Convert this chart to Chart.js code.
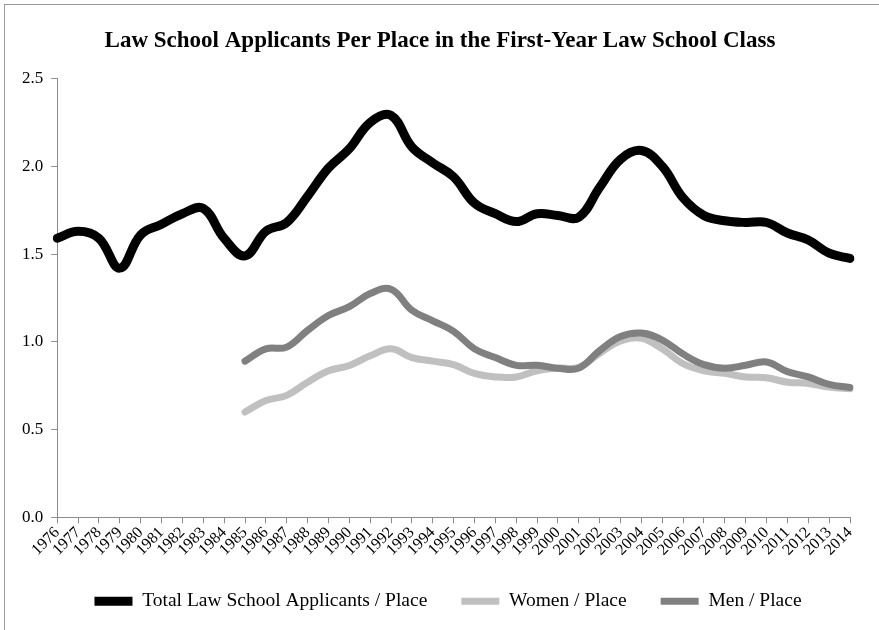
<!DOCTYPE html>
<html>
<head>
<meta charset="utf-8">
<script src="https://cdn.jsdelivr.net/npm/chart.js@4/dist/chart.umd.min.js"></script>
<style>
  html, body { margin: 0; padding: 0; background: #fff; }
  #wrap { position: relative; width: 879px; height: 630px; overflow: hidden; }
  #frame { position: absolute; left: 4px; top: 4px; width: 900px; height: 700px;
           border-left: 1px solid #9a9a9a; border-top: 1px solid #9a9a9a; }
  canvas { position: absolute; left: 0; top: 0; }
</style>
</head>
<body>
<div id="wrap">
  <div id="frame"></div>
  <canvas id="chart" width="879" height="630"></canvas>
</div>
<script>
// years on the x axis
const years = [];
for (let y = 1976; y <= 2014; y++) years.push(String(y));

// applicants per place
const totalPerPlace = [1.59, 1.63, 1.59, 1.42, 1.61, 1.67, 1.73, 1.76, 1.59, 1.49,
  1.63, 1.68, 1.83, 1.99, 2.10, 2.25, 2.29, 2.11, 2.02, 1.94,
  1.79, 1.73, 1.685, 1.73, 1.72, 1.71, 1.88, 2.04, 2.09, 2.00,
  1.82, 1.72, 1.69, 1.68, 1.68, 1.62, 1.58, 1.505, 1.475];

const womenPerPlace = [null, null, null, null, null, null, null, null, null, 0.60,
  0.665, 0.695, 0.77, 0.835, 0.865, 0.92, 0.96, 0.91, 0.89, 0.87,
  0.82, 0.80, 0.80, 0.835, 0.85, 0.855, 0.935, 1.005, 1.02, 0.96,
  0.875, 0.835, 0.82, 0.80, 0.795, 0.77, 0.763, 0.742, 0.733];

const menPerPlace = [null, null, null, null, null, null, null, null, null, 0.89,
  0.96, 0.97, 1.065, 1.15, 1.20, 1.275, 1.30, 1.18, 1.12, 1.06,
  0.96, 0.91, 0.866, 0.866, 0.85, 0.85, 0.95, 1.03, 1.05, 1.01,
  0.93, 0.87, 0.85, 0.866, 0.885, 0.83, 0.80, 0.757, 0.74];

const yTicks = [0, 0.5, 1.0, 1.5, 2.0, 2.5];

const serif = '"Liberation Serif", "DejaVu Serif", serif';

// title and legend sit a little right of the plot centre in the original
const nudgeBlocks = {
  id: 'nudgeBlocks',
  afterLayout(chart) {
    if (chart.titleBlock) { chart.titleBlock.left += 8; chart.titleBlock.right += 8; }
    if (chart.legend) { chart.legend.left += 16; chart.legend.right += 16; }
  }
};

new Chart(document.getElementById('chart'), {
  type: 'line',
  data: {
    labels: years,
    datasets: [
      { label: 'Total Law School Applicants / Place', data: totalPerPlace,
        borderColor: '#000000', backgroundColor: '#000000', borderWidth: 9, order: 2 },
      { label: 'Women / Place', data: womenPerPlace,
        borderColor: '#c0c0c0', backgroundColor: '#c0c0c0', borderWidth: 7, order: 1 },
      { label: 'Men / Place', data: menPerPlace,
        borderColor: '#808080', backgroundColor: '#808080', borderWidth: 7, order: 0 }
    ]
  },
  options: {
    responsive: false,
    animation: false,
    layout: { padding: { left: 14, right: 29, top: 22, bottom: 9 } },
    elements: {
      point: { radius: 0, hoverRadius: 0 },
      line: { tension: 0.4, borderCapStyle: 'round', borderJoinStyle: 'round' }
    },
    plugins: {
      title: {
        display: true,
        text: 'Law School Applicants Per Place in the First-Year Law School Class',
        color: '#000',
        font: { family: serif, size: 23, weight: 'bold' },
        padding: { top: 5, bottom: 24 }
      },
      legend: {
        position: 'bottom',
        labels: {
          usePointStyle: true,
          pointStyle: 'line',
          pointStyleWidth: 38,
          color: '#000',
          font: { family: serif, size: 19.5 },
          padding: 34,
          sort: (a, b) => a.datasetIndex - b.datasetIndex
        }
      },
      tooltip: { enabled: false }
    },
    scales: {
      x: {
        offset: false,
        border: { color: '#8c8c8c', width: 1 },
        grid: { drawOnChartArea: false, color: '#8c8c8c', tickLength: 6 },
        afterFit: axis => { axis.height -= 2; },
        ticks: { color: '#000', font: { family: serif, size: 16 },
                 autoSkip: false, maxRotation: 45, minRotation: 45, padding: 0 }
      },
      y: {
        min: 0, max: 2.5,
        border: { color: '#8c8c8c', width: 1 },
        grid: { drawOnChartArea: false, color: '#8c8c8c', tickLength: 6 },
        afterBuildTicks: axis => { axis.ticks = yTicks.map(v => ({ value: v })); },
        ticks: { color: '#000', font: { family: serif, size: 17 }, padding: 8,
                 callback: v => Number(v).toFixed(1) }
      }
    }
  },
  plugins: [nudgeBlocks]
});
</script>
</body>
</html>
